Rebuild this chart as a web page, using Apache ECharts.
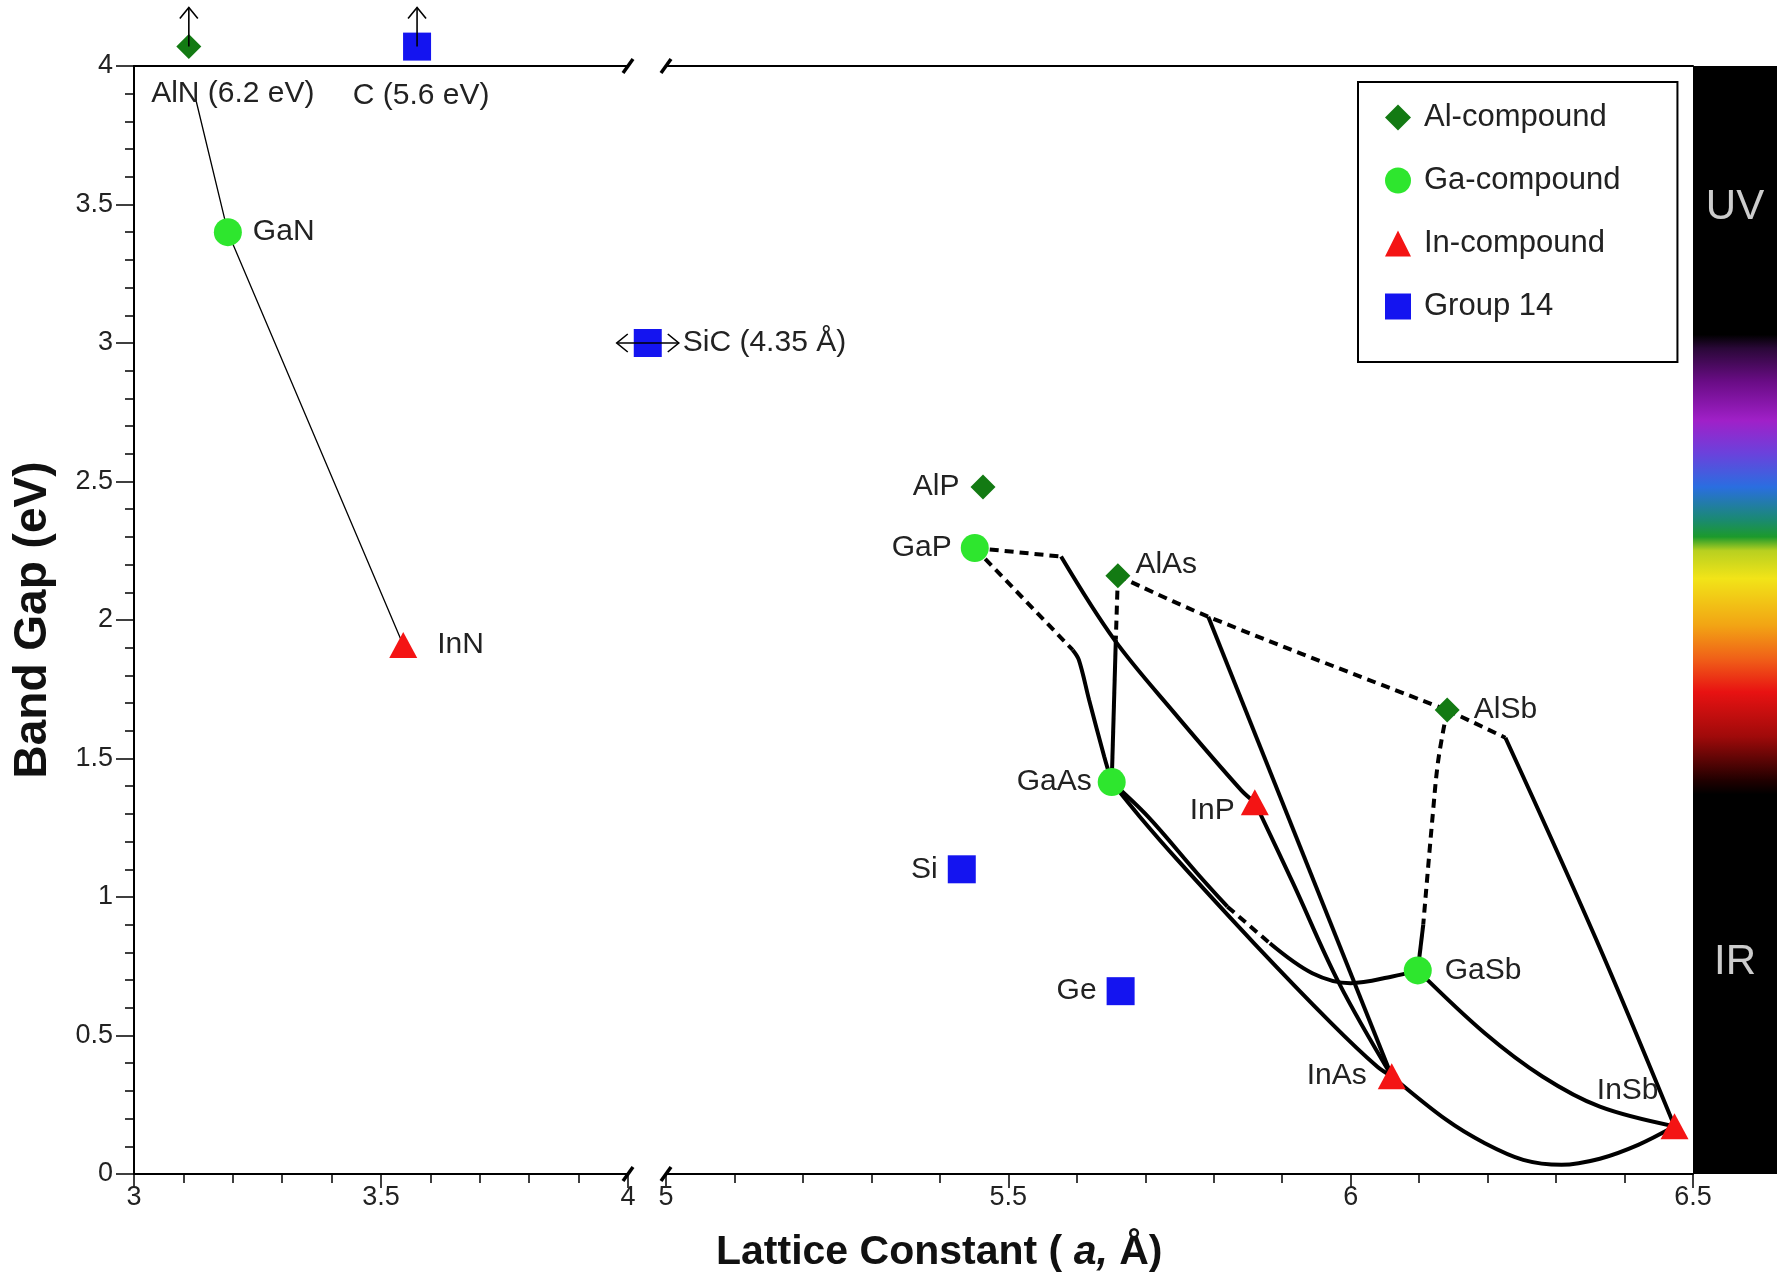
<!DOCTYPE html>
<html>
<head>
<meta charset="utf-8">
<title>Band gap vs lattice constant</title>
<script src="https://cdn.jsdelivr.net/npm/echarts@6/dist/echarts.min.js"></script>
<style>
  html, body { margin: 0; padding: 0; background: #fff; }
  #chart { width: 1779px; height: 1279px; }
</style>
</head>
<body>
<div id="chart"></div>
<script>
// compounds: lattice constant (Å) and band gap (eV) as drawn
const alName = ['AlN', 'AlP', 'AlAs', 'AlSb']
const alA = [3.111, 5.463, 5.660, 6.141]
const alEg = [4.07, 2.48, 2.16, 1.675]

const gaName = ['GaN', 'GaP', 'GaAs', 'GaSb']
const gaA = [3.19, 5.451, 5.651, 6.098]
const gaEg = [3.40, 2.26, 1.415, 0.735]

const inName = ['InN', 'InP', 'InAs', 'InSb']
const inA = [3.545, 5.86, 6.06, 6.473]
const inEg = [1.91, 1.342, 0.353, 0.172]

const g14Name = ['C', 'SiC', 'Si', 'Ge']
const g14A = [3.573, 4.04, 5.432, 5.664]
const g14Eg = [4.07, 3.0, 1.10, 0.66]

// off-scale points get an arrow
const upArrows = [[3.111, 4.07], [3.573, 4.07]]
const sideArrows = [[4.04, 3.0]]

// alloy curves, [a, Eg]
const alnGanInn = [[3.125, 3.88], [3.19, 3.40], [3.545, 1.91]]
const solidCurves = [
  [[5.577, 2.229], [5.655, 1.928], [5.743, 1.663], [5.84, 1.386], [5.86, 1.342]],   // GaP-InP
  [[5.594, 1.892], [5.603, 1.856], [5.618, 1.711], [5.64, 1.507], [5.651, 1.415]],  // GaP-GaAs
  [[5.657, 1.93], [5.651, 1.415]],                                                  // AlAs-GaAs
  [[5.792, 2.012], [6.06, 0.353]],                                                  // AlAs-InAs
  [[6.106, 0.9], [6.098, 0.735]],                                                   // AlSb-GaSb
  [[6.226, 1.575], [6.358, 0.85], [6.473, 0.172]],                                  // AlSb-InSb
  [[5.651, 1.415], [5.692, 1.29], [5.747, 1.134], [5.859, 0.833], [5.972, 0.544], [6.039, 0.387], [6.06, 0.353]], // GaAs-InAs
  [[5.651, 1.415], [5.704, 1.29], [5.776, 1.085], [5.82, 0.965]],                   // GaAs-GaSb
  [[5.882, 0.833], [5.944, 0.725], [6.0, 0.689], [6.061, 0.713], [6.098, 0.735]],
  [[5.86, 1.342], [5.916, 1.049], [5.983, 0.689], [6.06, 0.353]],                   // InP-InAs
  [[6.098, 0.735], [6.196, 0.508], [6.28, 0.352], [6.364, 0.243], [6.473, 0.172]],  // GaSb-InSb
  [[6.06, 0.353], [6.14, 0.195], [6.196, 0.111], [6.252, 0.051], [6.308, 0.033], [6.364, 0.055], [6.42, 0.105], [6.473, 0.172]] // InAs-InSb
]
const dashedCurves = [
  [[5.451, 2.26], [5.577, 2.229]],
  [[5.451, 2.26], [5.594, 1.892]],
  [[5.66, 2.16], [5.657, 1.93]],
  [[5.66, 2.16], [5.792, 2.012], [6.141, 1.675]],
  [[6.141, 1.675], [6.128, 1.495], [6.12, 1.3], [6.106, 0.9]],
  [[6.141, 1.675], [6.226, 1.575]],
  [[5.82, 0.965], [5.882, 0.833]]
]

// visible spectrum strip
const specEv = [3.03, 2.98, 2.86, 2.72, 2.60, 2.48, 2.36, 2.30, 2.25, 2.15, 1.98, 1.86, 1.74, 1.58, 1.42, 1.37]
const specColor = ['#000000', '#2a0838', '#6a0c86', '#a020c8', '#6a42dc', '#2a6ee0', '#1a8a70', '#1c9a2c',
  '#b8d020', '#f2e418', '#f2a414', '#f06018', '#e81212', '#a00a0a', '#200000', '#000000']
const bandText = ['UV', 'IR']
const bandEv = [3.49, 0.765]

const FONT = 'Liberation Sans, Arial, sans-serif'

// label placement per compound
const labelStyle = {
  AlN: { position: 'bottom', distance: 20, offset: [44, 0], formatter: 'AlN (6.2 eV)' },
  C: { position: 'bottom', distance: 20, offset: [4, 0], formatter: 'C (5.6 eV)' },
  SiC: { position: 'right', distance: 21, formatter: 'SiC (4.35 Å)' },
  GaN: { position: 'right', distance: 11 },
  InN: { position: 'right', distance: 20 },
  AlP: { position: 'left', distance: 11 },
  GaP: { position: 'left', distance: 9 },
  AlAs: { position: 'right', distance: 5, offset: [0, -11] },
  AlSb: { position: 'right', distance: 14 },
  GaAs: { position: 'left', distance: 6 },
  InP: { position: 'left', distance: 6, offset: [0, 8] },
  Si: { position: 'left', distance: 10 },
  Ge: { position: 'left', distance: 10 },
  GaSb: { position: 'right', distance: 13 },
  InAs: { position: 'left', distance: 11 },
  InSb: { position: 'left', distance: 2, offset: [0, -36] }
}

function points(names, as, egs, left) {
  const out = []
  names.forEach((n, i) => {
    if ((as[i] < 4.5) !== left) return
    out.push({ name: n, value: [as[i], egs[i]], label: labelStyle[n] })
  })
  return out
}

const families = [
  { name: 'Al-compound', names: alName, a: alA, eg: alEg, symbol: 'diamond', size: 25, color: '#137a13' },
  { name: 'Ga-compound', names: gaName, a: gaA, eg: gaEg, symbol: 'circle', size: 28, color: '#2ee62e' },
  { name: 'In-compound', names: inName, a: inA, eg: inEg, symbol: 'triangle', size: [28, 26], color: '#f41414' },
  { name: 'Group 14', names: g14Name, a: g14A, eg: g14Eg, symbol: 'rect', size: 28, color: '#1414f0' }
]

function lineSeries(pts, grid, dashed, width) {
  return {
    type: 'line', xAxisIndex: grid, yAxisIndex: grid, data: pts,
    symbol: 'none', silent: true, clip: false, z: 3,
    smooth: pts.length > 2 ? 0.35 : false,
    lineStyle: { color: '#000', width: width, type: dashed ? [9, 6] : 'solid' }
  }
}

const series = []
families.forEach(f => {
  ;[true, false].forEach(left => {
    series.push({
      name: f.name, type: 'scatter', xAxisIndex: left ? 0 : 1, yAxisIndex: left ? 0 : 1,
      symbol: f.symbol, symbolSize: f.size, clip: false, z: 5,
      itemStyle: { color: f.color, opacity: 1 },
      label: { show: true, color: '#222', fontSize: 30, fontFamily: FONT, formatter: '{b}' },
      data: points(f.names, f.a, f.eg, left)
    })
  })
})

series.push(Object.assign(lineSeries(alnGanInn, 0, false, 1.3), { smooth: false }))
solidCurves.forEach(c => series.push(lineSeries(c, 1, false, 4)))
dashedCurves.forEach(c => series.push(lineSeries(c, 1, true, 4)))

// arrows for off-scale compounds
series.push({
  type: 'custom', xAxisIndex: 0, yAxisIndex: 0, clip: false, silent: true, z: 6,
  data: upArrows.map(p => [p[0], p[1], 0]).concat(sideArrows.map(p => [p[0], p[1], 1])),
  renderItem(params, api) {
    const p = api.coord([api.value(0), api.value(1)])
    const st = { stroke: '#000', lineWidth: 1.6, fill: null }
    if (api.value(2) === 0) {
      const top = p[1] - 39
      return {
        type: 'group', children: [
          { type: 'polyline', shape: { points: [[p[0], p[1]], [p[0], top]] }, style: st },
          { type: 'polyline', shape: { points: [[p[0] - 9, top + 11], [p[0], top], [p[0] + 9, top + 11]] }, style: st }
        ]
      }
    }
    const l = p[0] - 31, r = p[0] + 31
    return {
      type: 'group', children: [
        { type: 'polyline', shape: { points: [[l, p[1]], [r, p[1]]] }, style: st },
        { type: 'polyline', shape: { points: [[l + 11, p[1] - 9], [l, p[1]], [l + 11, p[1] + 9]] }, style: st },
        { type: 'polyline', shape: { points: [[r - 11, p[1] - 9], [r, p[1]], [r - 11, p[1] + 9]] }, style: st }
      ]
    }
  }
})

// axis break slashes
function breakSeries(grid, x) {
  return {
    type: 'custom', xAxisIndex: grid, yAxisIndex: grid, clip: false, silent: true, z: 7,
    data: [[x, 0], [x, 4]],
    renderItem(params, api) {
      const p = api.coord([api.value(0), api.value(1)])
      return {
        type: 'line', shape: { x1: p[0] - 5, y1: p[1] + 7, x2: p[0] + 5, y2: p[1] - 7 },
        style: { stroke: '#000', lineWidth: 3.5 }
      }
    }
  }
}
series.push(breakSeries(0, 4), breakSeries(1, 5))

// spectrum strip
series.push({
  type: 'bar', xAxisIndex: 4, yAxisIndex: 2, barWidth: '100%', silent: true,
  data: [4],
  itemStyle: {
    color: new echarts.graphic.LinearGradient(0, 0, 0, 1,
      specEv.map((ev, i) => ({ offset: (4 - ev) / 4, color: specColor[i] })))
  }
})
series.push({
  type: 'scatter', xAxisIndex: 4, yAxisIndex: 2, symbolSize: 0, silent: true, z: 8,
  data: bandText.map((t, i) => ({ name: t, value: [0, bandEv[i]] })),
  label: { show: true, position: 'inside', formatter: '{b}', color: '#fff', fontSize: 42, fontFamily: FONT }
})

const tickLabel = { color: '#222', fontSize: 27, fontFamily: FONT }
const axisLine = { show: true, lineStyle: { color: '#000', width: 2 } }

function bottomAxis(grid, min, max) {
  return {
    type: 'value', gridIndex: grid, position: 'bottom', min, max, interval: 0.5,
    axisLine, splitLine: { show: false },
    axisTick: { show: true, length: 14, lineStyle: { color: '#000', width: 1.5 } },
    minorTick: { show: true, splitNumber: 5, length: 9, lineStyle: { color: '#000', width: 1.5 } },
    axisLabel: Object.assign({ margin: 10 }, tickLabel)
  }
}
function topAxis(grid, min, max) {
  return {
    type: 'value', gridIndex: grid, position: 'top', min, max,
    axisLine, axisTick: { show: false }, axisLabel: { show: false }, splitLine: { show: false }
  }
}

const chart = echarts.init(document.getElementById('chart'))
chart.setOption({
  animation: false,
  backgroundColor: '#fff',
  title: {
    text: '{n|Lattice Constant ( }{i|a,}{n| Å)}',
    left: 716, top: 1232, padding: 0,
    textStyle: {
      rich: {
        n: { fontSize: 41, fontWeight: 'bold', fontFamily: FONT, color: '#111' },
        i: { fontSize: 41, fontWeight: 'bold', fontStyle: 'italic', fontFamily: FONT, color: '#111' }
      }
    }
  },
  legend: {
    data: families.map(f => f.name),
    orient: 'vertical', left: 1358, top: 82,
    padding: [20, 57, 40, 27], itemGap: 32, itemWidth: 26, itemHeight: 26,
    borderColor: '#000', borderWidth: 2, selectedMode: false,
    textStyle: { color: '#222', fontSize: 31, fontFamily: FONT, padding: [0, 0, 0, 8] }
  },
  grid: [
    { left: 134, top: 66, width: 494, height: 1108 },
    { left: 666, top: 66, width: 1027, height: 1108 },
    { left: 1693, top: 66, width: 84, height: 1108 }
  ],
  xAxis: [
    bottomAxis(0, 3, 4),
    bottomAxis(1, 5, 6.5),
    topAxis(0, 3, 4),
    topAxis(1, 5, 6.5),
    { type: 'category', gridIndex: 2, data: ['spectrum'], show: false }
  ],
  yAxis: [
    {
      type: 'value', gridIndex: 0, min: 0, max: 4, interval: 0.5,
      name: 'Band Gap (eV)', nameLocation: 'middle', nameGap: 78,
      nameTextStyle: { fontSize: 46, fontWeight: 'bold', fontFamily: FONT, color: '#111' },
      axisLine, splitLine: { show: false },
      axisTick: { show: true, length: 18, lineStyle: { color: '#000', width: 1.5 } },
      minorTick: { show: true, splitNumber: 5, length: 9, lineStyle: { color: '#000', width: 1.5 } },
      axisLabel: Object.assign({ margin: 21 }, tickLabel)
    },
    { type: 'value', gridIndex: 1, min: 0, max: 4, show: false },
    { type: 'value', gridIndex: 2, min: 0, max: 4, show: false }
  ],
  series
})
</script>
</body>
</html>
